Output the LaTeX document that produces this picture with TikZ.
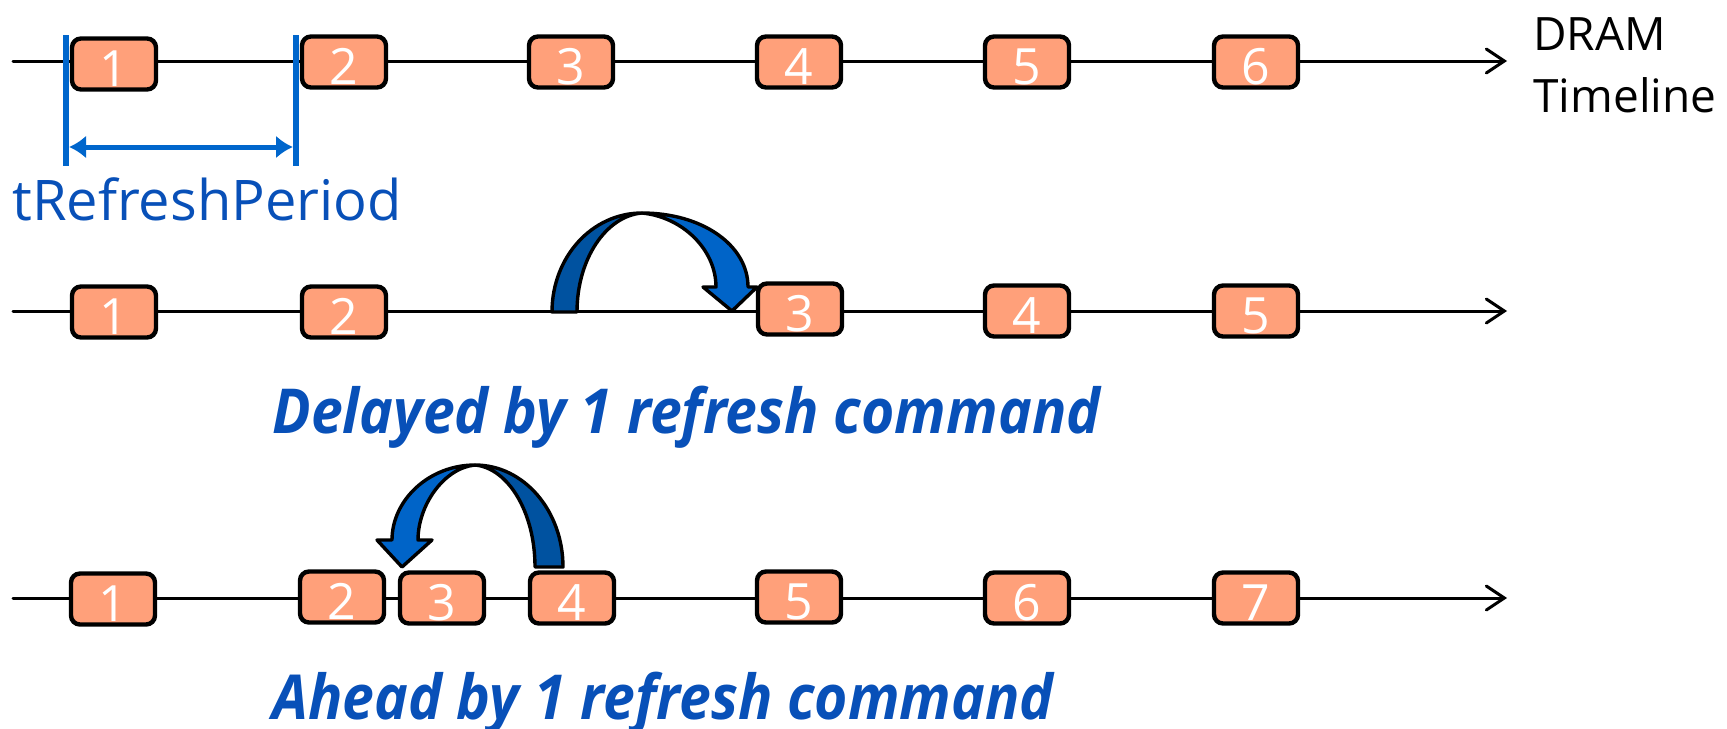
\documentclass[tikz,border=0pt]{standalone}
\usepackage{fontspec}
\setmainfont{Open Sans}
\usetikzlibrary{arrows.meta}
\definecolor{boxfill}{RGB}{255,160,122}
\definecolor{barblue}{RGB}{0,102,204}
\definecolor{txtblue}{RGB}{8,80,184}
\definecolor{arrdark}{RGB}{0,82,160}
\definecolor{arrlight}{RGB}{0,100,200}
\begin{document}
\begin{tikzpicture}[x=0.5pt,y=-0.5pt,
  refbox/.style={draw=black, line width=2.2pt, fill=boxfill, rounded corners=4.5pt,
    minimum width=42pt, minimum height=25.5pt, inner sep=0pt},
  num/.style={text=white, font=\fontsize{25}{25}\selectfont, anchor=base, inner sep=0pt},
  timeline/.style={line width=1.5pt, line cap=round, line join=round,
    -{Straight Barb[length=9pt,width=12pt,line cap=round]}},
  bar/.style={draw=barblue, line width=3.3pt},
  dimarrow/.style={draw=barblue, line width=2.5pt,
    {Latex[length=8.5pt,width=11.5pt]}-{Latex[length=8.5pt,width=11.5pt]}},
  bluetext/.style={text=txtblue, inner sep=0pt, anchor=base west},
  caption/.style={bluetext, font=\fontsize{31}{31}\selectfont\bfseries\itshape},
  curved/.style={draw=black, line width=1.7pt, line join=round},
  side/.style={anchor=base west, inner sep=0pt, font=\fontsize{23}{23}\selectfont},
]
\useasboundingbox (0,0) rectangle (1727,728);
\newcommand\rbox[4]{\node[refbox] (#1) at (#2,#3) {}; \node[num] (#1t) at ([yshift=-11pt]#1.center) {#4};}

% ---------- Row 1 ----------
\coordinate (s1) at (13,61);
\coordinate (e1) at (1507,61);
\draw[timeline] (s1) -- (e1);
\rbox{a1}{114}{64}{1}
\rbox{a2}{344}{62}{2}
\rbox{a3}{571}{62}{3}
\rbox{a4}{799}{62}{4}
\rbox{a5}{1027}{62}{5}
\rbox{a6}{1256}{62}{6}
\node[side] (dram) at (1533,50) {DRAM};
\node[side] (tl) at (1533,112) {Timeline};

\coordinate (p1t) at (66,35);
\coordinate (p1b) at (66,166);
\coordinate (p2t) at (296,35);
\coordinate (p2b) at (296,166);
\draw[bar] (p1t) -- (p1b);
\draw[bar] (p2t) -- (p2b);
\coordinate (d1) at (69,147);
\coordinate (d2) at (293,147);
\draw[dimarrow] (d1) -- (d2);
\node[bluetext, font=\fontsize{28}{28}\selectfont] (trp) at (12,220) {tRefreshPeriod};

% ---------- Row 2 ----------
\coordinate (s2) at (13,311);
\coordinate (e2) at (1507,311);
\draw[timeline] (s2) -- (e2);
% curved arrow (delayed)
\filldraw[curved, fill=arrdark] (552,312) .. controls (552,257) and (592,213) .. (642,213)
  .. controls (606,216) and (577,259) .. (577,312) -- cycle;
\filldraw[curved, fill=arrlight] (642,213) .. controls (702,213) and (748,245) .. (748,287)
  -- (757,287) -- (732,311) -- (703,287) -- (716,287)
  .. controls (716,250) and (683,217) .. (642,213) -- cycle;
\rbox{b1}{114}{312}{1}
\rbox{b2}{344}{312}{2}
\rbox{b3}{800}{309}{3}
\rbox{b4}{1027}{311}{4}
\rbox{b5}{1256}{311}{5}
\node[caption] (del) at (272,433) {\scalebox{0.92}[1]{Delayed by 1 refresh command}};

% ---------- Row 3 ----------
\coordinate (s3) at (13,598);
\coordinate (e3) at (1507,598);
\draw[timeline] (s3) -- (e3);
% curved arrow (ahead)
\filldraw[curved, fill=arrdark] (535,567) -- (563,567) .. controls (563,511) and (524,465) .. (475,465)
  .. controls (508,468) and (535,512) .. (535,567) -- cycle;
\filldraw[curved, fill=arrlight] (475,465) .. controls (429,465) and (392,500) .. (392,540)
  -- (377,540) -- (402,567) -- (432,540) -- (418,540)
  .. controls (418,505) and (444,468) .. (475,465) -- cycle;
\rbox{c1}{113}{599}{1}
\rbox{c2}{342}{597}{2}
\rbox{c3}{442}{598}{3}
\rbox{c4}{572}{598}{4}
\rbox{c5}{799}{597}{5}
\rbox{c6}{1027}{598}{6}
\rbox{c7}{1256}{598}{7}
\node[caption] (ahd) at (272,719) {\scalebox{0.92}[1]{Ahead by 1 refresh command}};
\end{tikzpicture}
\end{document}
